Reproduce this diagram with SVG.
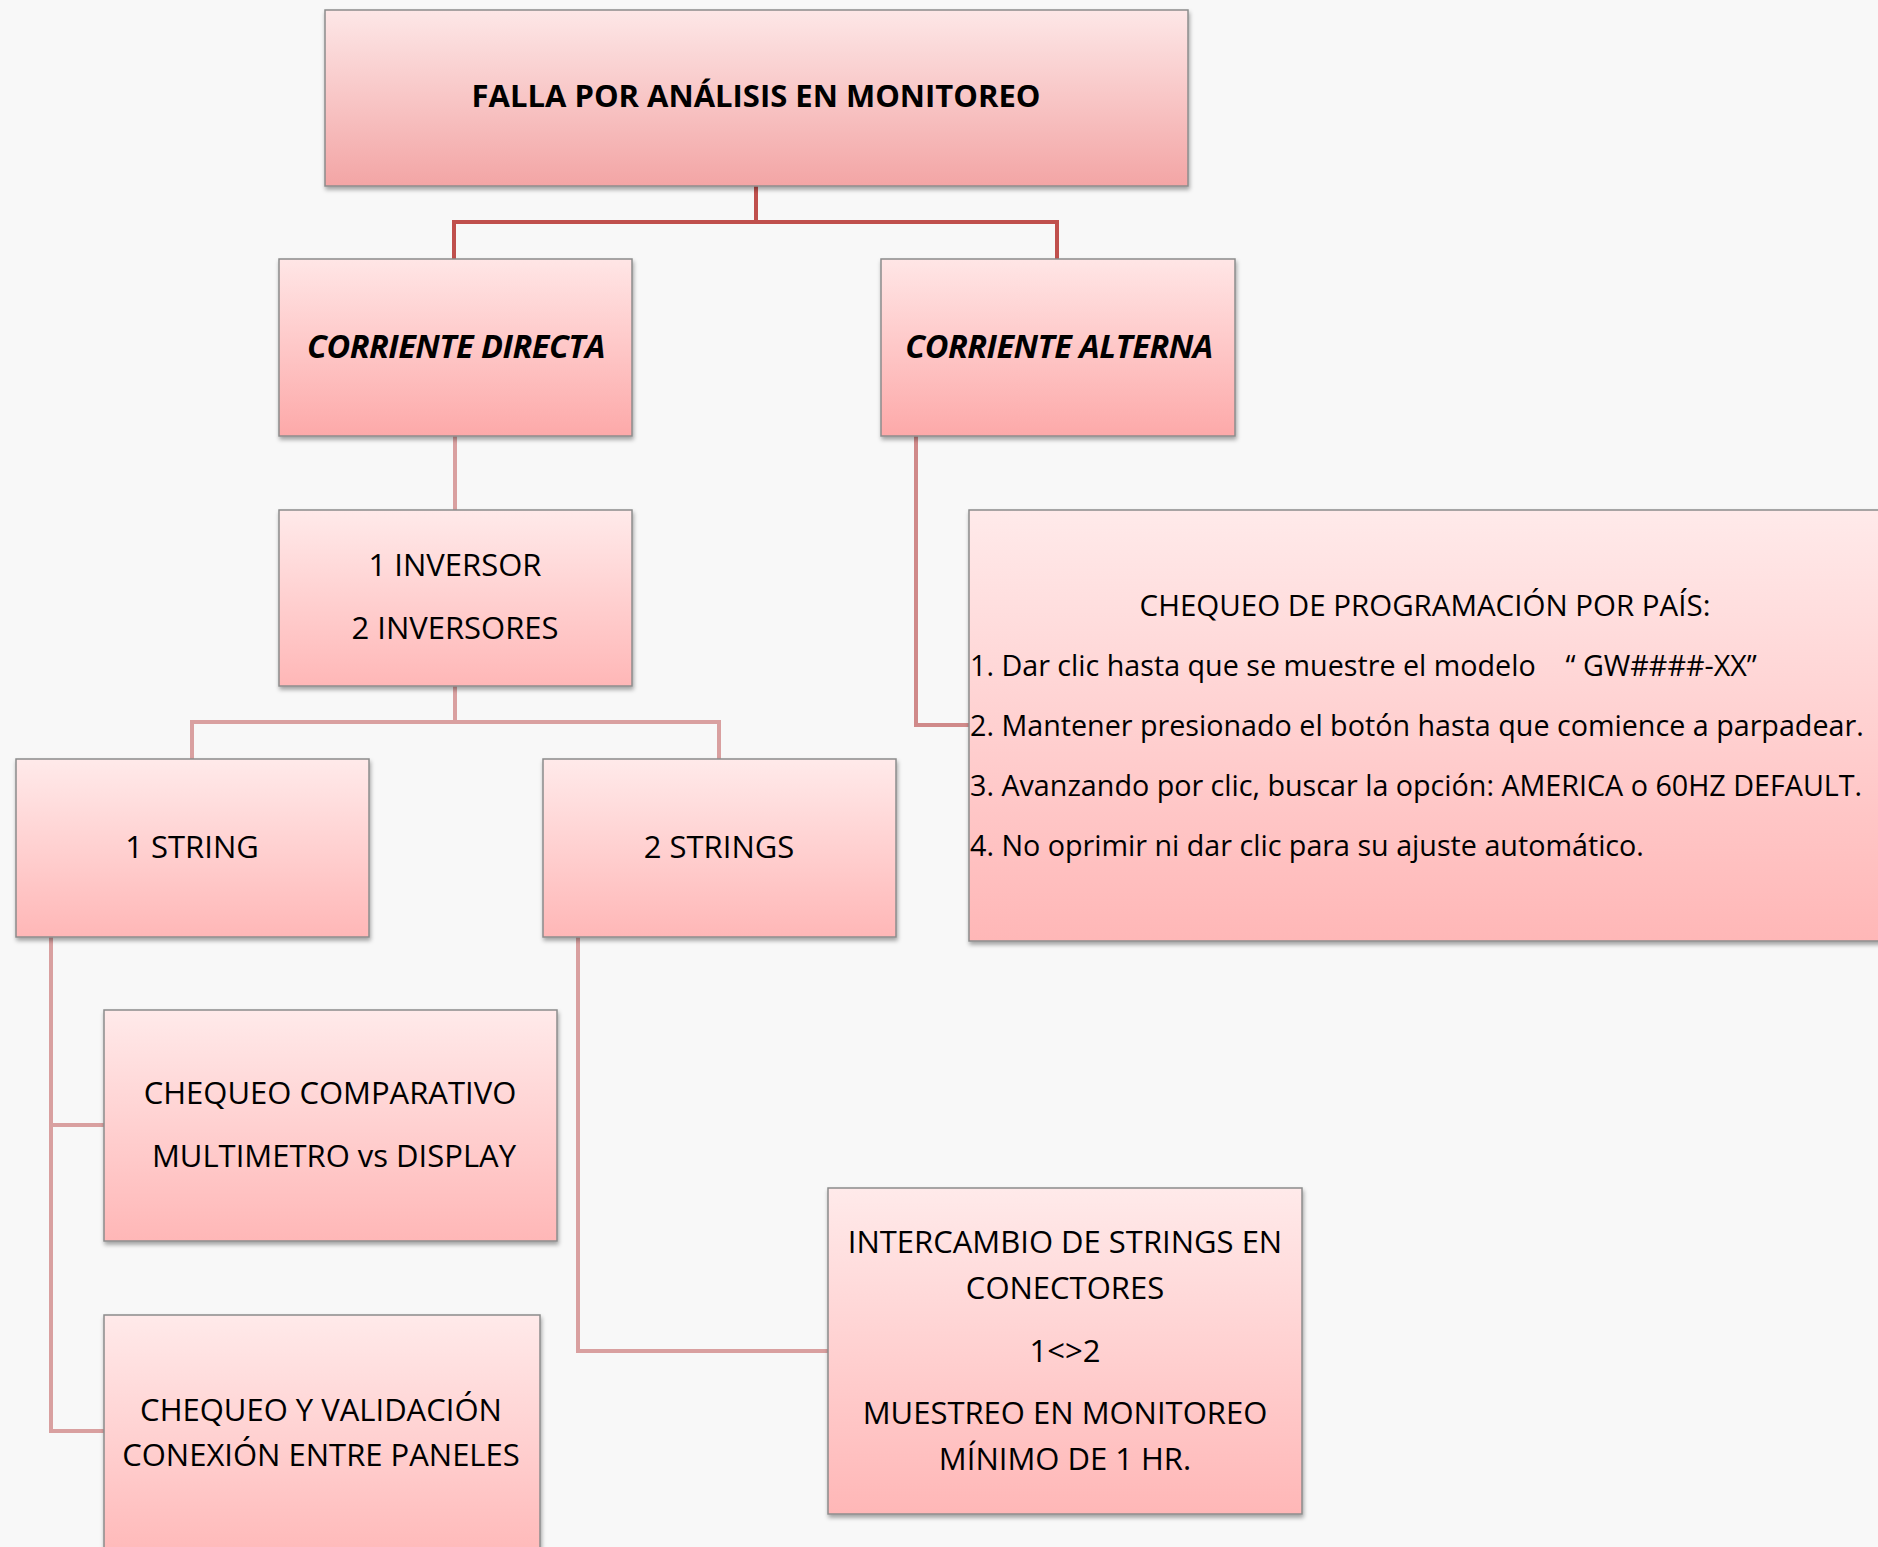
<svg xmlns="http://www.w3.org/2000/svg" width="1878" height="1547" viewBox="0 0 1878 1547">
<defs>
<linearGradient id="gTop" x1="0" y1="0" x2="0" y2="1"><stop offset="0" stop-color="#fde7e7"/><stop offset="1" stop-color="#f3a5a5"/></linearGradient>
<linearGradient id="gBox" x1="0" y1="0" x2="0" y2="1"><stop offset="0" stop-color="#ffeaea"/><stop offset="1" stop-color="#ffb7b7"/></linearGradient>
<linearGradient id="gL2" x1="0" y1="0" x2="0" y2="1"><stop offset="0" stop-color="#ffe6e6"/><stop offset="1" stop-color="#fda9a9"/></linearGradient>
<filter id="sh" x="-5%" y="-5%" width="115%" height="120%"><feDropShadow dx="1" dy="3" stdDeviation="2" flood-color="#000" flood-opacity="0.35"/></filter>
<style>
.box{stroke:#8c8c8c;stroke-width:1.5;filter:url(#sh)}
.t{font-family:"Open Sans","Noto Sans","DejaVu Sans",sans-serif;font-size:31px;fill:#000;text-anchor:middle}
.tl{font-family:"Open Sans","Noto Sans","DejaVu Sans",sans-serif;font-size:28.7px;fill:#000;white-space:pre}
.b{font-weight:bold}
.bi{font-weight:bold;font-style:italic;font-size:32.5px;letter-spacing:-0.5px}
.c1{fill:none;stroke:#c0504d;stroke-width:4}
.c2{fill:none;stroke:#d9a0a0;stroke-width:4}
.c3{fill:none;stroke:#d08a8a;stroke-width:4}
</style>
</defs>
<rect width="1878" height="1547" fill="#f8f8f8"/>
<g id="connectors">
<path class="c1" d="M756 186 V222 M454 259 V222 H1057 V259"/>
<path class="c2" d="M455 436 V510"/>
<path class="c2" d="M455 686 V722 M192 759 V722 H719 V759"/>
<path class="c3" d="M916 436 V725 H970"/>
<path class="c2" d="M51 937 V1431 H104 M51 1125 H104"/>
<path class="c2" d="M578 937 V1351 H828"/>
</g>
<g id="n-falla"><rect class="box" x="325" y="10" width="863" height="176" fill="url(#gTop)"/><text class="t b" x="756" y="107">FALLA POR ANÁLISIS EN MONITOREO</text></g>
<g id="n-directa"><rect class="box" x="279" y="259" width="353" height="177" fill="url(#gL2)"/><text class="t bi" x="456" y="358">CORRIENTE DIRECTA</text></g>
<g id="n-alterna"><rect class="box" x="881" y="259" width="354" height="177" fill="url(#gL2)"/><text class="t bi" x="1059" y="358">CORRIENTE ALTERNA</text></g>
<g id="n-inversor"><rect class="box" x="279" y="510" width="353" height="176" fill="url(#gBox)"/><text class="t" x="455" y="576">1 INVERSOR</text><text class="t" x="455" y="639">2 INVERSORES</text></g>
<g id="n-pais"><rect class="box" x="969" y="510" width="920" height="431" fill="url(#gBox)"/>
<text class="t" x="1425" y="616" style="font-size:29.5px">CHEQUEO DE PROGRAMACIÓN POR PAÍS:</text>
<text class="tl" x="970" y="676">1. Dar clic hasta que se muestre el modelo    “ GW####-XX”</text>
<text class="tl" x="970" y="736">2. Mantener presionado el botón hasta que comience a parpadear.</text>
<text class="tl" x="970" y="796">3. Avanzando por clic, buscar la opción: AMERICA o 60HZ DEFAULT.</text>
<text class="tl" x="970" y="856">4. No oprimir ni dar clic para su ajuste automático.</text></g>
<g id="n-1string"><rect class="box" x="16" y="759" width="353" height="178" fill="url(#gBox)"/><text class="t" x="192" y="858">1 STRING</text></g>
<g id="n-2strings"><rect class="box" x="543" y="759" width="353" height="178" fill="url(#gBox)"/><text class="t" x="719" y="858">2 STRINGS</text></g>
<g id="n-comparativo"><rect class="box" x="104" y="1010" width="453" height="231" fill="url(#gBox)"/><text class="t" x="330" y="1104">CHEQUEO COMPARATIVO</text><text class="t" x="334" y="1167">MULTIMETRO vs DISPLAY</text></g>
<g id="n-validacion"><rect class="box" x="104" y="1315" width="436" height="250" fill="url(#gBox)"/><text class="t" x="321" y="1421">CHEQUEO Y VALIDACIÓN</text><text class="t" x="321" y="1466">CONEXIÓN ENTRE PANELES</text></g>
<g id="n-intercambio"><rect class="box" x="828" y="1188" width="474" height="326" fill="url(#gBox)"/>
<text class="t" x="1065" y="1253">INTERCAMBIO DE STRINGS EN</text><text class="t" x="1065" y="1299">CONECTORES</text><text class="t" x="1065" y="1362">1&lt;&gt;2</text><text class="t" x="1065" y="1424">MUESTREO EN MONITOREO</text><text class="t" x="1065" y="1470">MÍNIMO DE 1 HR.</text></g>
</svg>
